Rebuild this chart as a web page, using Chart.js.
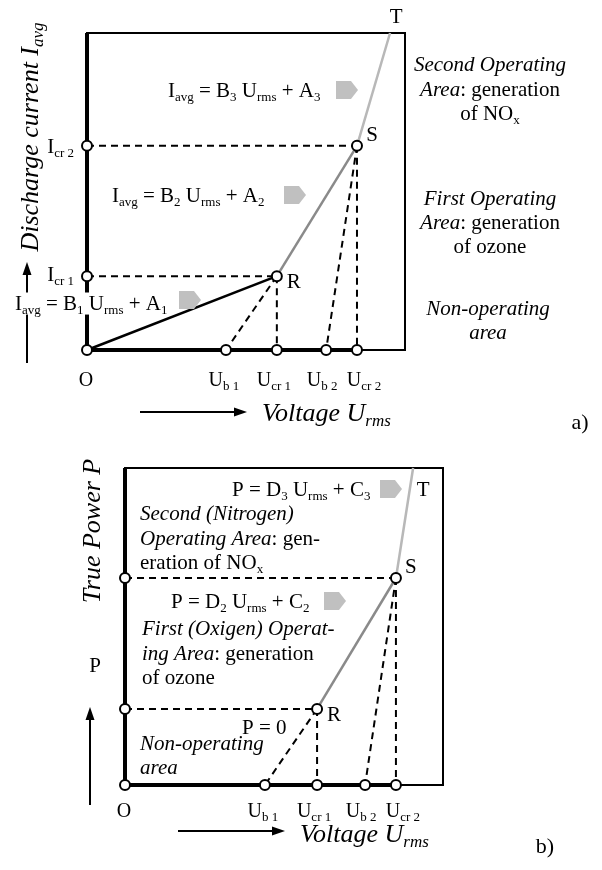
<!DOCTYPE html>
<html>
<head>
<meta charset="utf-8">
<script src="https://cdn.jsdelivr.net/npm/chart.js@4/dist/chart.umd.min.js"></script>
<style>
  body { margin: 0; background: #fff; }
  canvas { display: block; }
</style>
</head>
<body>
<canvas id="chartA" width="602" height="435"></canvas>
<canvas id="chartB" width="602" height="435"></canvas>
<script>
// axis labels of the voltage marks (subscripts)
const voltLabels = ["b 1", "cr 1", "b 2", "cr 2"];

// a) discharge current vs voltage, box is 0..10 on both axes
const voltA = [4.37, 5.97, 7.52, 8.49]; // Ub1, Ucr1, Ub2, Ucr2
const currentCrit = [2.33, 6.44]; // Icr1, Icr2
const curveA_U = [0, 5.97, 8.49, 9.53]; // O, R, S, T
const curveA_I = [0, 2.33, 6.44, 10];
const curveA_colors = ["#000000", "#8a8a8a", "#b8b8b8"];

// b) true power vs voltage
const voltB = [4.4, 6.04, 7.55, 8.52];
const powerCrit = [2.4, 6.53];
const curveB_U = [6.04, 8.52, 9.06]; // R, S, T
const curveB_P = [2.4, 6.53, 10];
const curveB_colors = ["#8a8a8a", "#b8b8b8"];

const SERIF = '"Liberation Serif", "Times New Roman", serif';
const labelShift = [-2, -3, -4, 7];

function font(size, italic) {
  return (italic ? "italic " : "") + size + "px " + SERIF;
}

// parts: [text, kind]  kind: n normal, i italic, s subscript, si italic subscript
function rich(ctx, parts, x, y, size, align, bg) {
  const sub = Math.round(size * 0.64);
  let w = 0;
  const m = parts.map(([t, k]) => {
    const isSub = k[0] === "s";
    const f = font(isSub ? sub : size, k.includes("i"));
    ctx.font = f;
    const tw = ctx.measureText(t).width;
    w += tw;
    return { t, f, tw, isSub };
  });
  let x0 = align === "center" ? x - w / 2 : align === "right" ? x - w : x;
  const base = y + size * 0.33;
  if (bg) {
    ctx.fillStyle = "#fff";
    ctx.fillRect(x0 - 2, y - size * 0.5, w + 4, size * 1.05);
  }
  ctx.fillStyle = "#000";
  ctx.textBaseline = "alphabetic";
  ctx.textAlign = "left";
  m.forEach((p) => {
    ctx.font = p.f;
    ctx.fillText(p.t, x0, base + (p.isSub ? size * 0.2 : 0));
    x0 += p.tw;
  });
}

function blockArrow(ctx, x, y) {
  ctx.save();
  ctx.fillStyle = "#c0c0c0";
  ctx.beginPath();
  ctx.moveTo(x, y - 9);
  ctx.lineTo(x + 15, y - 9);
  ctx.lineTo(x + 22, y);
  ctx.lineTo(x + 15, y + 9);
  ctx.lineTo(x, y + 9);
  ctx.closePath();
  ctx.fill();
  ctx.restore();
}

function lineArrow(ctx, x1, y1, x2, y2) {
  const a = Math.atan2(y2 - y1, x2 - x1);
  ctx.save();
  ctx.strokeStyle = "#000";
  ctx.fillStyle = "#000";
  ctx.lineWidth = 2;
  ctx.beginPath();
  ctx.moveTo(x1, y1);
  ctx.lineTo(x2 - 10 * Math.cos(a), y2 - 10 * Math.sin(a));
  ctx.stroke();
  ctx.translate(x2, y2);
  ctx.rotate(a);
  ctx.beginPath();
  ctx.moveTo(0, 0);
  ctx.lineTo(-13, -4.5);
  ctx.lineTo(-13, 4.5);
  ctx.closePath();
  ctx.fill();
  ctx.restore();
}

function buildDatasets(volt, crit, curveU, curveV, colors) {
  const R = { x: volt[1], y: crit[0] };
  const S = { x: volt[3], y: crit[1] };
  const dashed = [
    [{ x: 0, y: crit[0] }, R],
    [{ x: 0, y: crit[1] }, S],
    [R, { x: volt[1], y: 0 }],
    [R, { x: volt[0], y: 0 }],
    [S, { x: volt[3], y: 0 }],
    [S, { x: volt[2], y: 0 }],
  ];
  const circles = [{ x: 0, y: 0 }, { x: 0, y: crit[0] }, { x: 0, y: crit[1] }, R, S]
    .concat(volt.map((v) => ({ x: v, y: 0 })));
  const sets = [
    {
      data: circles,
      pointRadius: 5,
      pointBackgroundColor: "#fff",
      pointBorderColor: "#000",
      pointBorderWidth: 2,
      showLine: false,
    },
    {
      data: curveU.map((u, i) => ({ x: u, y: curveV[i] })),
      showLine: true,
      pointRadius: 0,
      borderWidth: 2.5,
      borderColor: colors[0],
      segment: { borderColor: (c) => colors[c.p0DataIndex] },
    },
  ];
  dashed.forEach((d) =>
    sets.push({
      data: d,
      showLine: true,
      pointRadius: 0,
      borderWidth: 2,
      borderColor: "#000",
      borderDash: [7, 5],
    })
  );
  // thick left axis and thick part of the voltage axis
  sets.push({ data: [{ x: 0, y: 0 }, { x: 0, y: 10 }], showLine: true, pointRadius: 0, borderWidth: 4, borderColor: "#000" });
  sets.push({ data: [{ x: 0, y: 0 }, { x: volt[3], y: 0 }], showLine: true, pointRadius: 0, borderWidth: 4, borderColor: "#000" });
  sets.forEach((s) => (s.clip = false));
  return sets;
}

function baseOptions(padding) {
  return {
    responsive: false,
    animation: false,
    layout: { padding },
    plugins: { legend: { display: false }, tooltip: { enabled: false } },
    scales: {
      x: { type: "linear", min: 0, max: 10, display: false },
      y: { type: "linear", min: 0, max: 10, display: false },
    },
  };
}

// labels shared by both panels
function commonLabels(ctx, chart, volt, crit, labelY) {
  const xs = chart.scales.x, ys = chart.scales.y;
  const x0 = xs.getPixelForValue(0);
  rich(ctx, [["O", "n"]], x0 - 1, labelY, 20, "center");
  volt.forEach((v, i) => {
    rich(ctx, [["U", "n"], [voltLabels[i], "s"]], xs.getPixelForValue(v) + labelShift[i], labelY, 20, "center");
  });
  const rx = xs.getPixelForValue(volt[1]), ry = ys.getPixelForValue(crit[0]);
  const sx = xs.getPixelForValue(volt[3]), sy = ys.getPixelForValue(crit[1]);
  rich(ctx, [["R", "n"]], rx + 17, ry + 5, 21, "center");
  rich(ctx, [["S", "n"]], sx + 15, sy - 12, 21, "center");
}

const boxPlugin = {
  id: "box",
  beforeDatasetsDraw(chart) {
    const { ctx, chartArea: a } = chart;
    ctx.save();
    ctx.strokeStyle = "#000";
    ctx.lineWidth = 2;
    ctx.strokeRect(a.left, a.top, a.right - a.left, a.bottom - a.top);
    ctx.restore();
  },
};

const textA = {
  id: "textA",
  afterDraw(chart) {
    const ctx = chart.ctx;
    const xs = chart.scales.x, ys = chart.scales.y;
    ctx.save();
    commonLabels(ctx, chart, voltA, currentCrit, 379);
    const x0 = xs.getPixelForValue(0);
    rich(ctx, [["I", "n"], ["cr 2", "s"]], x0 - 13, ys.getPixelForValue(currentCrit[1]), 21, "right");
    rich(ctx, [["I", "n"], ["cr 1", "s"]], x0 - 13, ys.getPixelForValue(currentCrit[0]) - 2, 21, "right");
    rich(ctx, [["T", "n"]], xs.getPixelForValue(curveA_U[3]) + 6, ys.getPixelForValue(10) - 17, 21, "center");

    // y axis title + arrow
    lineArrow(ctx, 27, 363, 27, 262);
    ctx.save();
    ctx.translate(29, 137);
    ctx.rotate(-Math.PI / 2);
    rich(ctx, [["Discharge current I", "i"], ["avg", "si"]], 0, 0, 26, "center");
    ctx.restore();

    // equations
    const eq = (n, a) => [["I", "n"], ["avg", "s"], [" = B", "n"], [n, "s"], [" U", "n"], ["rms", "s"], [" + A", "n"], [a, "s"]];
    rich(ctx, eq("3", "3"), 168, 90, 21, "left");
    blockArrow(ctx, 336, 90);
    rich(ctx, eq("2", "2"), 112, 195, 21, "left");
    blockArrow(ctx, 284, 195);
    rich(ctx, eq("1", "1"), 15, 303, 21, "left", true);
    blockArrow(ctx, 179, 300);

    // region descriptions
    const cx = 490;
    rich(ctx, [["Second Operating", "i"]], cx, 64, 21, "center");
    rich(ctx, [["Area", "i"], [": generation", "n"]], cx, 89, 21, "center");
    rich(ctx, [["of NO", "n"], ["x", "s"]], cx, 113, 21, "center");
    rich(ctx, [["First Operating", "i"]], cx, 198, 21, "center");
    rich(ctx, [["Area", "i"], [": generation", "n"]], cx, 222, 21, "center");
    rich(ctx, [["of ozone", "n"]], cx, 246, 21, "center");
    rich(ctx, [["Non-operating", "i"]], cx - 2, 308, 21, "center");
    rich(ctx, [["area", "i"]], cx - 2, 332, 21, "center");

    // x axis title
    lineArrow(ctx, 140, 412, 247, 412);
    rich(ctx, [["Voltage U", "i"], ["rms", "si"]], 262, 412, 26, "left");
    rich(ctx, [["a)", "n"]], 580, 422, 22, "center");
    ctx.restore();
  },
};

const textB = {
  id: "textB",
  afterDraw(chart) {
    const ctx = chart.ctx;
    const xs = chart.scales.x, ys = chart.scales.y;
    ctx.save();
    commonLabels(ctx, chart, voltB, powerCrit, 375);
    rich(ctx, [["T", "n"]], xs.getPixelForValue(curveB_U[2]) + 10, ys.getPixelForValue(10) + 21, 21, "center");

    rich(ctx, [["P", "n"]], 95, 230, 21, "center");
    lineArrow(ctx, 90, 370, 90, 272);
    ctx.save();
    ctx.translate(91, 96);
    ctx.rotate(-Math.PI / 2);
    rich(ctx, [["True Power P", "i"]], 0, 0, 26, "center");
    ctx.restore();

    const eq = (n) => [["P = D", "n"], [n, "s"], [" U", "n"], ["rms", "s"], [" + C", "n"], [n, "s"]];
    rich(ctx, eq("3"), 232, 54, 21, "left");
    blockArrow(ctx, 380, 54);
    rich(ctx, [["Second (Nitrogen)", "i"]], 140, 78, 21, "left");
    rich(ctx, [["Operating Area", "i"], [": gen-", "n"]], 140, 103, 21, "left");
    rich(ctx, [["eration of NO", "n"], ["x", "s"]], 140, 127, 21, "left");

    rich(ctx, eq("2"), 171, 166, 21, "left");
    blockArrow(ctx, 324, 166);
    rich(ctx, [["First (Oxigen) Operat-", "i"]], 142, 193, 21, "left");
    rich(ctx, [["ing Area", "i"], [": generation", "n"]], 142, 218, 21, "left");
    rich(ctx, [["of ozone", "n"]], 142, 242, 21, "left");

    rich(ctx, [["P = 0", "n"]], 242, 292, 21, "left");
    rich(ctx, [["Non-operating", "i"]], 140, 308, 21, "left");
    rich(ctx, [["area", "i"]], 140, 332, 21, "left");

    lineArrow(ctx, 178, 396, 285, 396);
    rich(ctx, [["Voltage U", "i"], ["rms", "si"]], 300, 398, 26, "left");
    rich(ctx, [["b)", "n"]], 545, 411, 22, "center");
    ctx.restore();
  },
};

new Chart(document.getElementById("chartA"), {
  type: "scatter",
  data: { datasets: buildDatasets(voltA, currentCrit, curveA_U, curveA_I, curveA_colors) },
  options: baseOptions({ left: 87, top: 33, right: 197, bottom: 85 }),
  plugins: [boxPlugin, textA],
});

new Chart(document.getElementById("chartB"), {
  type: "scatter",
  data: { datasets: buildDatasets(voltB, powerCrit, curveB_U, curveB_P, curveB_colors) },
  options: baseOptions({ left: 125, top: 33, right: 159, bottom: 85 }),
  plugins: [boxPlugin, textB],
});
</script>
</body>
</html>
